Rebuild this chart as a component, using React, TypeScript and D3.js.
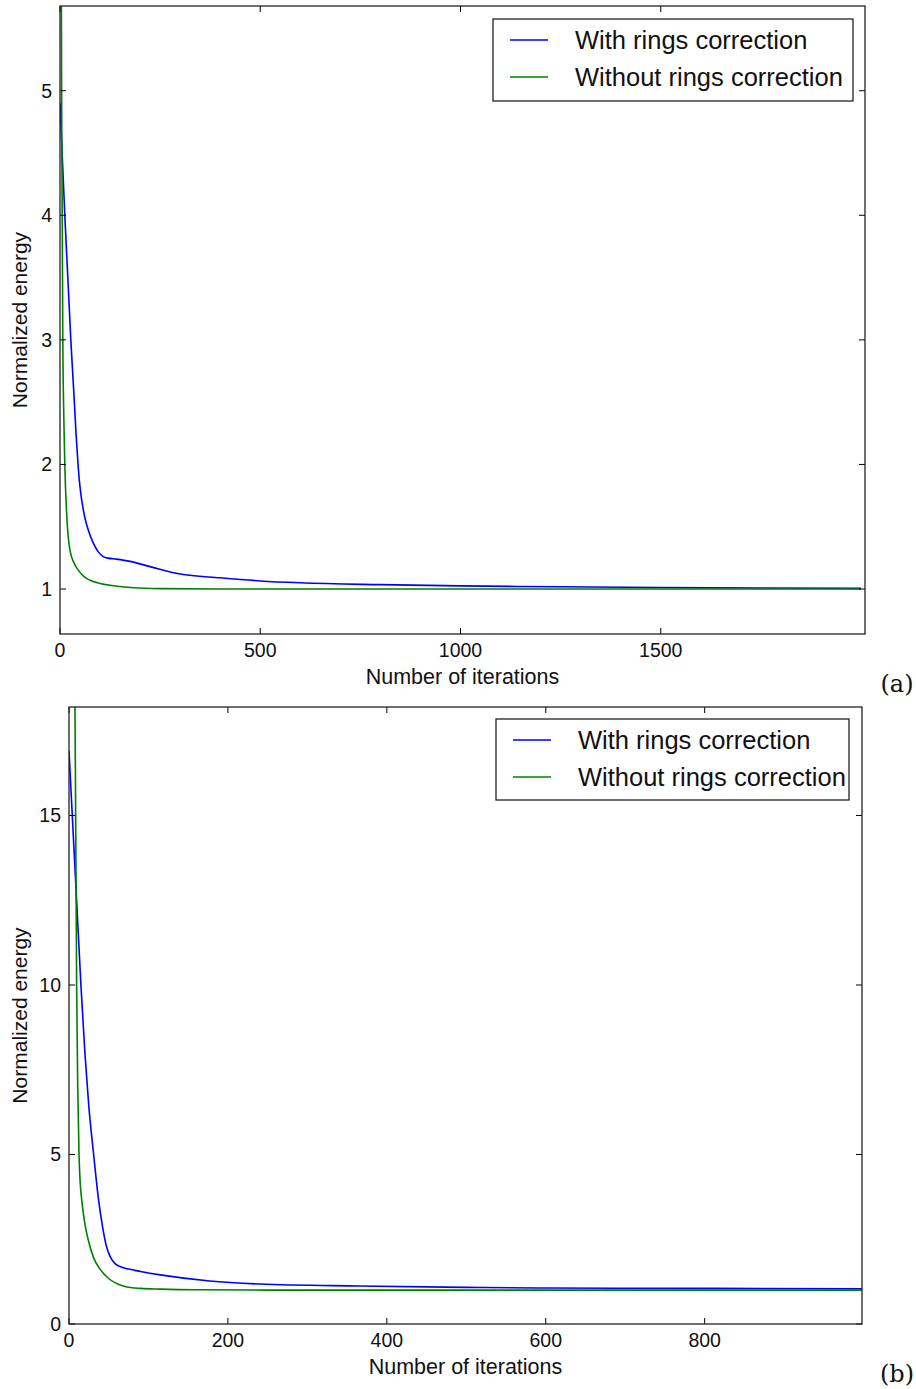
import * as d3 from "d3";

// panel (a): iterations and normalized energy
const iterA_with = [0, 12, 27, 35, 40, 44, 48, 53, 58, 63, 72, 83, 95, 108, 120, 140, 175, 225, 300, 400, 500, 600, 800, 1000, 1250, 1500, 1750, 2000];
const energyA_with = [4.9, 4.0, 3.0, 2.55, 2.25, 2.05, 1.88, 1.74, 1.64, 1.56, 1.46, 1.37, 1.3, 1.26, 1.248, 1.24, 1.222, 1.18, 1.12, 1.09, 1.065, 1.05, 1.035, 1.025, 1.018, 1.012, 1.008, 1.005];
const iterA_without = [0, 2, 4, 7, 10, 12, 17, 25, 35, 46, 60, 75, 100, 125, 150, 183, 250, 400, 1000, 2000];
const energyA_without = [12, 7.5, 5, 3.0, 2.3, 2.0, 1.58, 1.31, 1.21, 1.15, 1.1, 1.07, 1.045, 1.03, 1.02, 1.01, 1.003, 1.0, 1.0, 1.0];

// panel (b)
const iterB_with = [0, 5, 10, 15, 20, 25, 31, 37, 42, 47, 52, 58, 65, 75, 90, 115, 177, 240, 365, 500, 600, 800, 1000];
const energyB_with = [16.9, 14.6, 12.3, 10.0, 8.0, 6.4, 5.0, 3.7, 2.9, 2.3, 1.98, 1.78, 1.69, 1.62, 1.55, 1.45, 1.27, 1.18, 1.12, 1.08, 1.06, 1.05, 1.04];
const iterB_without = [0, 4, 7.5, 8.4, 9.6, 11, 12.6, 14, 16, 20, 24, 31, 39, 51, 62, 73, 90, 115, 160, 250, 400, 1000];
const energyB_without = [60, 28, 18.2, 15, 10, 7, 5, 4.2, 3.66, 2.95, 2.5, 1.95, 1.62, 1.32, 1.17, 1.09, 1.05, 1.03, 1.01, 1.0, 1.0, 1.0];

const xTicksA = [0, 500, 1000, 1500];
const yTicksA = [1, 2, 3, 4, 5];
const xTicksB = [0, 200, 400, 600, 800];
const yTicksB = [0, 5, 10, 15];

const seriesNames = ["With rings correction", "Without rings correction"];
const colors = ["#0000ff", "#008000"];

const sans = "'Liberation Sans', Arial, sans-serif";
const serif = "'DejaVu Serif', 'Liberation Serif', serif";

type PanelProps = {
  id: string;
  left: number; right: number; top: number; bottom: number;
  xDomain: [number, number]; yDomain: [number, number];
  xTicks: number[]; yTicks: number[];
  series: { x: number[]; y: number[] }[];
  legend: { x0: number; x1: number; y0: number; y1: number };
  tag: string;
};

const Panel = ({ id, left, right, top, bottom, xDomain, yDomain, xTicks, yTicks, series, legend, tag }: PanelProps) => {
  const x = d3.scaleLinear().domain(xDomain).range([left, right]);
  const y = d3.scaleLinear().domain(yDomain).range([bottom, top]);
  const line = d3.line<[number, number]>()
    .x(d => x(d[0]))
    .y(d => y(d[1]))
    .curve(d3.curveMonotoneX);
  const tl = 6;

  return (
    <g>
      <defs>
        <clipPath id={`clip-${id}`}>
          <rect x={left} y={top} width={right - left} height={bottom - top} />
        </clipPath>
      </defs>
      <g clipPath={`url(#clip-${id})`}>
        {series.map((s, i) => (
          <path key={i} d={line(s.x.map((v, j) => [v, s.y[j]]) as [number, number][]) || ""}
            fill="none" stroke={colors[i]} strokeWidth={1.6} />
        ))}
      </g>
      {/* ticks, inward on all four sides */}
      {xTicks.map(t => (
        <g key={"x" + t}>
          <line x1={x(t)} x2={x(t)} y1={bottom} y2={bottom - tl} stroke="#000" />
          <line x1={x(t)} x2={x(t)} y1={top} y2={top + tl} stroke="#000" />
          <text x={x(t)} y={bottom + 23} textAnchor="middle" fontFamily={sans} fontSize={19.5} fill="#111">{t}</text>
        </g>
      ))}
      {yTicks.map(t => (
        <g key={"y" + t}>
          <line x1={left} x2={left + tl} y1={y(t)} y2={y(t)} stroke="#000" />
          <line x1={right} x2={right - tl} y1={y(t)} y2={y(t)} stroke="#000" />
          <text x={left - 8} y={y(t) + 7} textAnchor="end" fontFamily={sans} fontSize={19.5} fill="#111">{t}</text>
        </g>
      ))}
      <rect x={left} y={top} width={right - left} height={bottom - top} fill="none" stroke="#222" strokeWidth={1.3} />
      <text x={(left + right) / 2} y={bottom + 50} textAnchor="middle" fontFamily={sans} fontSize={21.5} fill="#111">Number of iterations</text>
      <text transform={`translate(27,${(top + bottom) / 2}) rotate(-90)`} textAnchor="middle" fontFamily={sans} fontSize={21} fill="#111">Normalized energy</text>
      {/* legend */}
      <rect x={legend.x0} y={legend.y0} width={legend.x1 - legend.x0} height={legend.y1 - legend.y0}
        fill="#fff" stroke="#222" strokeWidth={1.3} />
      {seriesNames.map((name, i) => {
        const cy = legend.y0 + 21 + 37 * i;
        return (
          <g key={name}>
            <line x1={legend.x0 + 17} x2={legend.x0 + 55} y1={cy} y2={cy} stroke={colors[i]} strokeWidth={1.6} />
            <text x={legend.x0 + 82} y={cy + 8.5} fontFamily={sans} fontSize={25.5} fill="#111">{name}</text>
          </g>
        );
      })}
      <text x={897} y={bottom + 58} textAnchor="middle" fontFamily={serif} fontSize={24} fill="#111">{tag}</text>
    </g>
  );
};

export default function App() {
  return (
    <svg width={916} height={1389} style={{ position: "absolute", left: 0, top: 0, background: "#fff" }}>
      <Panel id="a" left={60} right={865} top={6} bottom={634}
        xDomain={[0, 2010]} yDomain={[0.639, 5.68]}
        xTicks={xTicksA} yTicks={yTicksA}
        series={[{ x: iterA_with, y: energyA_with }, { x: iterA_without, y: energyA_without }]}
        legend={{ x0: 493, x1: 853, y0: 19, y1: 101 }} tag="(a)" />
      <Panel id="b" left={69} right={862} top={707} bottom={1324}
        xDomain={[0, 998]} yDomain={[0, 18.2]}
        xTicks={xTicksB} yTicks={yTicksB}
        series={[{ x: iterB_with, y: energyB_with }, { x: iterB_without, y: energyB_without }]}
        legend={{ x0: 496, x1: 849, y0: 719, y1: 800 }} tag="(b)" />
    </svg>
  );
}
